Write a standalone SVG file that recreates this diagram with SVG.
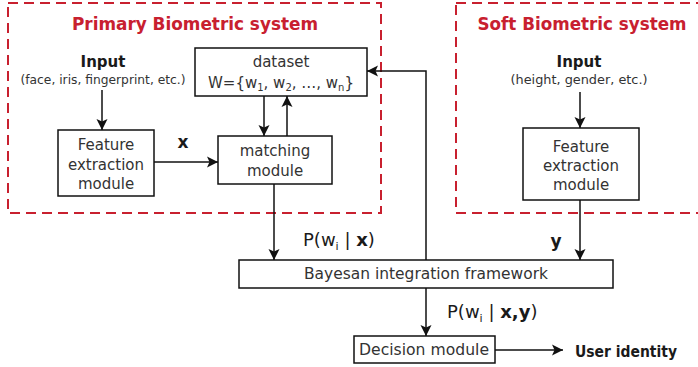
<svg xmlns="http://www.w3.org/2000/svg" width="698" height="367" viewBox="0 0 698 367">
<style>
text{font-family:"DejaVu Sans","Liberation Sans",sans-serif;fill:#1a1a1a}
.t{font-size:17px;font-weight:bold;fill:#c8202f}
.in{font-size:15px;font-weight:bold}
.sub{font-size:12px;fill:#333}
.bx{font-size:15px;fill:#333}
.box{fill:#fff;stroke:#111;stroke-width:1.5}
.grp{fill:none;stroke:#c8202f;stroke-width:2;stroke-dasharray:10 6}
.c{fill:none;stroke:#111;stroke-width:1.5;marker-end:url(#ah)}
.lab{font-size:18px}
</style>
<defs>
<marker id="ah" markerUnits="userSpaceOnUse" markerWidth="13" markerHeight="13" refX="11" refY="6" orient="auto">
<path d="M0,0.5 L11,6 L0,11.5 L2.5,6 Z" fill="#111"/>
</marker>
</defs>
<g id="primary-system">
<rect class="grp" x="8" y="3" width="373" height="210"/>
<text class="t" x="195" y="30" text-anchor="middle" textLength="246" lengthAdjust="spacingAndGlyphs">Primary Biometric system</text>
</g>
<g id="soft-system">
<rect class="grp" x="456" y="3" width="260" height="210"/>
<text class="t" x="582" y="30" text-anchor="middle" textLength="209" lengthAdjust="spacingAndGlyphs">Soft Biometric system</text>
</g>
<g id="primary-input">
<text class="in" x="103" y="67" text-anchor="middle">Input</text>
<text class="sub" x="103" y="84" text-anchor="middle" textLength="165" lengthAdjust="spacingAndGlyphs">(face, iris, fingerprint, etc.)</text>
</g>
<g id="primary-feature">
<rect class="box" x="58" y="130" width="96" height="66"/>
<text class="bx" x="106" y="150" text-anchor="middle">Feature</text>
<text class="bx" x="106" y="170" text-anchor="middle">extraction</text>
<text class="bx" x="106" y="189" text-anchor="middle">module</text>
</g>
<g id="dataset">
<rect class="box" x="195" y="48" width="172" height="48"/>
<text class="bx" x="281" y="67" text-anchor="middle">dataset</text>
<text class="bx" x="281" y="88" text-anchor="middle">W={w<tspan font-size="10" dy="3">1</tspan><tspan dy="-3">, w</tspan><tspan font-size="10" dy="3">2</tspan><tspan dy="-3">, …, w</tspan><tspan font-size="10" dy="3">n</tspan><tspan dy="-3">}</tspan></text>
</g>
<g id="matching">
<rect class="box" x="218" y="136" width="114" height="48"/>
<text class="bx" x="275" y="156" text-anchor="middle">matching</text>
<text class="bx" x="275" y="176" text-anchor="middle">module</text>
</g>
<g id="soft-input">
<text class="in" x="579" y="67" text-anchor="middle">Input</text>
<text class="sub" x="579" y="84" text-anchor="middle" textLength="137" lengthAdjust="spacingAndGlyphs">(height, gender, etc.)</text>
</g>
<g id="soft-feature">
<rect class="box" x="523" y="128" width="116" height="72"/>
<text class="bx" x="581" y="152" text-anchor="middle">Feature</text>
<text class="bx" x="581" y="171" text-anchor="middle">extraction</text>
<text class="bx" x="581" y="190" text-anchor="middle">module</text>
</g>
<g id="bayesian">
<rect class="box" x="239" y="260" width="374" height="28"/>
<text class="bx" x="426" y="279" text-anchor="middle" font-size="14" textLength="244" lengthAdjust="spacingAndGlyphs">Bayesan integration framework</text>
</g>
<g id="decision">
<rect class="box" x="354" y="336" width="141" height="27"/>
<text class="bx" x="424" y="355" text-anchor="middle" textLength="130" lengthAdjust="spacingAndGlyphs">Decision module</text>
</g>
<g id="user-identity">
<text class="in" x="575" y="357" textLength="102" lengthAdjust="spacingAndGlyphs">User identity</text>
</g>
<g id="connectors">
<path class="c" d="M102,90 V130"/>
<path class="c" d="M154,162 H218"/>
<path class="c" d="M264,96 V136"/>
<path class="c" d="M287,136 V96"/>
<path class="c" d="M274,184 V260"/>
<path class="c" d="M426,260 V71 H367"/>
<path class="c" d="M426,288 V336"/>
<path class="c" d="M495,350 H563"/>
<path class="c" d="M580,92 V128"/>
<path class="c" d="M580,200 V260"/>
<text x="183" y="148" font-size="17" font-weight="bold" text-anchor="middle">x</text>
<text class="lab" x="303" y="246">P(w<tspan font-size="11" dy="4">i</tspan><tspan dy="-4"> | </tspan><tspan font-weight="bold">x</tspan>)</text>
<text x="556" y="247" font-size="17" font-weight="bold" text-anchor="middle">y</text>
<text class="lab" x="447" y="318">P(w<tspan font-size="11" dy="4">i</tspan><tspan dy="-4"> | </tspan><tspan font-weight="bold">x,y</tspan>)</text>
</g>
</svg>
